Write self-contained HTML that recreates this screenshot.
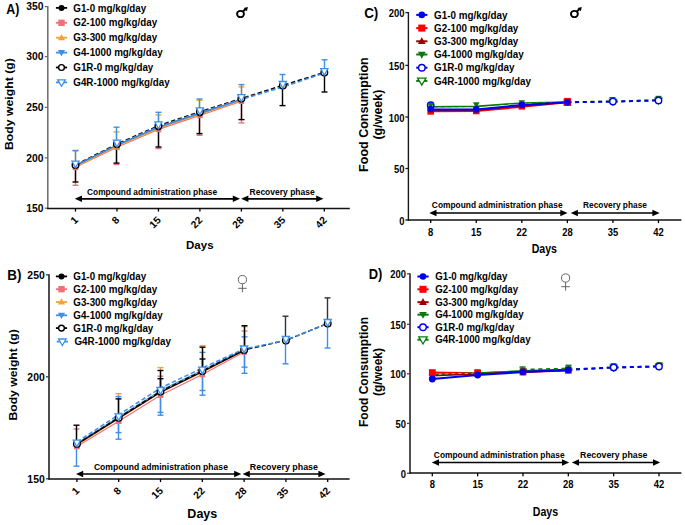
<!DOCTYPE html>
<html><head><meta charset="utf-8"><title>Body weight and food consumption</title>
<style>html,body{margin:0;padding:0;background:#fff;width:685px;height:525px;overflow:hidden}
svg{display:block}text{font-family:"Liberation Sans", sans-serif}</style></head>
<body>
<svg width="685" height="525" viewBox="0 0 685 525">
<rect width="685" height="525" fill="#fff"/>
<g font-family='"Liberation Sans", sans-serif'>
<line x1="47.80" y1="6.10" x2="47.80" y2="209.10" stroke="#6a6a6a" stroke-width="1.5" stroke-linecap="butt"/>
<line x1="44.80" y1="6.60" x2="47.80" y2="6.60" stroke="#6a6a6a" stroke-width="1.3" stroke-linecap="butt"/>
<text transform="translate(43.50,10.30)" font-size="10.3" text-anchor="end" fill="#000" font-weight="bold">350</text>
<line x1="44.80" y1="56.60" x2="47.80" y2="56.60" stroke="#6a6a6a" stroke-width="1.3" stroke-linecap="butt"/>
<text transform="translate(43.50,60.30)" font-size="10.3" text-anchor="end" fill="#000" font-weight="bold">300</text>
<line x1="44.80" y1="107.40" x2="47.80" y2="107.40" stroke="#6a6a6a" stroke-width="1.3" stroke-linecap="butt"/>
<text transform="translate(43.50,111.10)" font-size="10.3" text-anchor="end" fill="#000" font-weight="bold">250</text>
<line x1="44.80" y1="157.80" x2="47.80" y2="157.80" stroke="#6a6a6a" stroke-width="1.3" stroke-linecap="butt"/>
<text transform="translate(43.50,161.50)" font-size="10.3" text-anchor="end" fill="#000" font-weight="bold">200</text>
<line x1="44.80" y1="208.20" x2="47.80" y2="208.20" stroke="#6a6a6a" stroke-width="1.3" stroke-linecap="butt"/>
<text transform="translate(43.50,211.90)" font-size="10.3" text-anchor="end" fill="#000" font-weight="bold">150</text>
<line x1="47.10" y1="208.40" x2="349.80" y2="208.40" stroke="#111" stroke-width="1.5" stroke-linecap="butt"/>
<line x1="75.50" y1="208.40" x2="75.50" y2="211.60" stroke="#000" stroke-width="1.3" stroke-linecap="butt"/>
<text transform="translate(78.70,220.80) rotate(-45)" font-size="10.3" text-anchor="end" fill="#000" font-weight="bold">1</text>
<line x1="116.97" y1="208.40" x2="116.97" y2="211.60" stroke="#000" stroke-width="1.3" stroke-linecap="butt"/>
<text transform="translate(120.17,220.80) rotate(-45)" font-size="10.3" text-anchor="end" fill="#000" font-weight="bold">8</text>
<line x1="158.44" y1="208.40" x2="158.44" y2="211.60" stroke="#000" stroke-width="1.3" stroke-linecap="butt"/>
<text transform="translate(161.64,220.80) rotate(-45)" font-size="10.3" text-anchor="end" fill="#000" font-weight="bold">15</text>
<line x1="199.91" y1="208.40" x2="199.91" y2="211.60" stroke="#000" stroke-width="1.3" stroke-linecap="butt"/>
<text transform="translate(203.11,220.80) rotate(-45)" font-size="10.3" text-anchor="end" fill="#000" font-weight="bold">22</text>
<line x1="241.38" y1="208.40" x2="241.38" y2="211.60" stroke="#000" stroke-width="1.3" stroke-linecap="butt"/>
<text transform="translate(244.58,220.80) rotate(-45)" font-size="10.3" text-anchor="end" fill="#000" font-weight="bold">28</text>
<line x1="282.85" y1="208.40" x2="282.85" y2="211.60" stroke="#000" stroke-width="1.3" stroke-linecap="butt"/>
<text transform="translate(286.05,220.80) rotate(-45)" font-size="10.3" text-anchor="end" fill="#000" font-weight="bold">35</text>
<line x1="324.32" y1="208.40" x2="324.32" y2="211.60" stroke="#000" stroke-width="1.3" stroke-linecap="butt"/>
<text transform="translate(327.52,220.80) rotate(-45)" font-size="10.3" text-anchor="end" fill="#000" font-weight="bold">42</text>
<text transform="translate(6.30,13.70) scale(1.0,1.15)" font-size="12.4" text-anchor="start" fill="#000" font-weight="bold">A)</text>
<text transform="translate(13.30,104.10) rotate(-90) scale(1.058,1.0)" font-size="11.6" text-anchor="middle" fill="#000" font-weight="bold">Body weight (g)</text>
<text transform="translate(199.80,248.70)" font-size="11.5" text-anchor="middle" fill="#000" font-weight="bold">Days</text>
<line x1="78.80" y1="198.80" x2="236.00" y2="198.80" stroke="#000" stroke-width="1.7" stroke-linecap="butt"/>
<path d="M74.80,198.80 L82.00,195.50 L82.00,202.10 Z" fill="#000"/>
<path d="M240.00,198.80 L232.80,195.50 L232.80,202.10 Z" fill="#000"/>
<line x1="245.20" y1="198.80" x2="319.40" y2="198.80" stroke="#000" stroke-width="1.7" stroke-linecap="butt"/>
<path d="M241.20,198.80 L248.40,195.50 L248.40,202.10 Z" fill="#000"/>
<path d="M323.40,198.80 L316.20,195.50 L316.20,202.10 Z" fill="#000"/>
<text transform="translate(152.10,194.50) scale(1.0,1.07)" font-size="8.35" text-anchor="middle" fill="#000" font-weight="bold">Compound administration phase</text>
<text transform="translate(282.10,195.00) scale(1.0,1.07)" font-size="8.5" text-anchor="middle" fill="#000" font-weight="bold">Recovery phase</text>
<line x1="55.90" y1="7.90" x2="67.10" y2="7.90" stroke="#000" stroke-width="1.8" stroke-linecap="butt"/>
<circle cx="61.50" cy="7.90" r="3.0" fill="#000"/>
<text transform="translate(73.30,11.50) scale(1.0,1.1)" font-size="9.8" text-anchor="start" fill="#000" font-weight="bold">G1-0 mg/kg/day</text>
<line x1="55.90" y1="22.80" x2="67.10" y2="22.80" stroke="#f07078" stroke-width="1.8" stroke-linecap="butt"/>
<rect x="58.30" y="19.60" width="6.40" height="6.40" fill="#f07078"/>
<text transform="translate(73.30,26.40) scale(1.0,1.1)" font-size="9.8" text-anchor="start" fill="#000" font-weight="bold">G2-100 mg/kg/day</text>
<line x1="55.90" y1="37.70" x2="67.10" y2="37.70" stroke="#f4a338" stroke-width="1.8" stroke-linecap="butt"/>
<path d="M61.50,33.92 L65.00,40.22 L58.00,40.22 Z" fill="#f4a338"/>
<text transform="translate(73.30,41.30) scale(1.0,1.1)" font-size="9.8" text-anchor="start" fill="#000" font-weight="bold">G3-300 mg/kg/day</text>
<line x1="55.90" y1="52.60" x2="67.10" y2="52.60" stroke="#3f8fe8" stroke-width="1.8" stroke-linecap="butt"/>
<path d="M61.50,56.38 L65.00,50.08 L58.00,50.08 Z" fill="#3f8fe8"/>
<text transform="translate(73.30,56.20) scale(1.0,1.1)" font-size="9.8" text-anchor="start" fill="#000" font-weight="bold">G4-1000 mg/kg/day</text>
<line x1="55.90" y1="67.50" x2="67.10" y2="67.50" stroke="#000" stroke-width="1.8" stroke-linecap="butt"/>
<circle cx="61.50" cy="67.50" r="2.90" fill="#fff" stroke="#000" stroke-width="1.4"/>
<text transform="translate(73.30,71.10) scale(1.0,1.1)" font-size="9.8" text-anchor="start" fill="#000" font-weight="bold">G1R-0 mg/kg/day</text>
<line x1="55.90" y1="82.40" x2="67.10" y2="82.40" stroke="#3f8fe8" stroke-width="1.8" stroke-linecap="butt"/>
<path d="M61.50,86.28 L65.30,79.82 L57.70,79.82 Z" fill="#fff" stroke="#3f8fe8" stroke-width="1.3" stroke-linejoin="miter"/>
<text transform="translate(73.30,86.00) scale(1.0,1.1)" font-size="9.8" text-anchor="start" fill="#000" font-weight="bold">G4R-1000 mg/kg/day</text>
<line x1="75.50" y1="165.30" x2="75.50" y2="185.30" stroke="#f07078" stroke-width="1.4" stroke-linecap="butt"/>
<line x1="72.50" y1="185.30" x2="78.50" y2="185.30" stroke="#f07078" stroke-width="1.4" stroke-linecap="butt"/>
<line x1="75.50" y1="165.30" x2="75.50" y2="182.00" stroke="#000" stroke-width="1.4" stroke-linecap="butt"/>
<line x1="72.50" y1="182.00" x2="78.50" y2="182.00" stroke="#000" stroke-width="1.4" stroke-linecap="butt"/>
<line x1="75.50" y1="165.30" x2="75.50" y2="150.80" stroke="#f4a338" stroke-width="1.4" stroke-linecap="butt"/>
<line x1="72.50" y1="150.80" x2="78.50" y2="150.80" stroke="#f4a338" stroke-width="1.4" stroke-linecap="butt"/>
<line x1="75.50" y1="165.30" x2="75.50" y2="150.50" stroke="#3f8fe8" stroke-width="1.4" stroke-linecap="butt"/>
<line x1="72.50" y1="150.50" x2="78.50" y2="150.50" stroke="#3f8fe8" stroke-width="1.4" stroke-linecap="butt"/>
<line x1="116.50" y1="144.70" x2="116.50" y2="164.50" stroke="#f07078" stroke-width="1.4" stroke-linecap="butt"/>
<line x1="113.50" y1="164.50" x2="119.50" y2="164.50" stroke="#f07078" stroke-width="1.4" stroke-linecap="butt"/>
<line x1="116.50" y1="144.70" x2="116.50" y2="163.10" stroke="#000" stroke-width="1.4" stroke-linecap="butt"/>
<line x1="113.50" y1="163.10" x2="119.50" y2="163.10" stroke="#000" stroke-width="1.4" stroke-linecap="butt"/>
<line x1="116.50" y1="144.70" x2="116.50" y2="131.90" stroke="#f4a338" stroke-width="1.4" stroke-linecap="butt"/>
<line x1="113.50" y1="131.90" x2="119.50" y2="131.90" stroke="#f4a338" stroke-width="1.4" stroke-linecap="butt"/>
<line x1="116.50" y1="144.70" x2="116.50" y2="127.20" stroke="#3f8fe8" stroke-width="1.4" stroke-linecap="butt"/>
<line x1="113.50" y1="127.20" x2="119.50" y2="127.20" stroke="#3f8fe8" stroke-width="1.4" stroke-linecap="butt"/>
<line x1="158.50" y1="126.60" x2="158.50" y2="148.50" stroke="#f07078" stroke-width="1.4" stroke-linecap="butt"/>
<line x1="155.50" y1="148.50" x2="161.50" y2="148.50" stroke="#f07078" stroke-width="1.4" stroke-linecap="butt"/>
<line x1="158.50" y1="126.60" x2="158.50" y2="147.00" stroke="#000" stroke-width="1.4" stroke-linecap="butt"/>
<line x1="155.50" y1="147.00" x2="161.50" y2="147.00" stroke="#000" stroke-width="1.4" stroke-linecap="butt"/>
<line x1="158.50" y1="126.60" x2="158.50" y2="114.90" stroke="#f4a338" stroke-width="1.4" stroke-linecap="butt"/>
<line x1="155.50" y1="114.90" x2="161.50" y2="114.90" stroke="#f4a338" stroke-width="1.4" stroke-linecap="butt"/>
<line x1="158.50" y1="126.60" x2="158.50" y2="112.30" stroke="#3f8fe8" stroke-width="1.4" stroke-linecap="butt"/>
<line x1="155.50" y1="112.30" x2="161.50" y2="112.30" stroke="#3f8fe8" stroke-width="1.4" stroke-linecap="butt"/>
<line x1="199.50" y1="112.60" x2="199.50" y2="135.30" stroke="#f07078" stroke-width="1.4" stroke-linecap="butt"/>
<line x1="196.50" y1="135.30" x2="202.50" y2="135.30" stroke="#f07078" stroke-width="1.4" stroke-linecap="butt"/>
<line x1="199.50" y1="112.60" x2="199.50" y2="133.60" stroke="#000" stroke-width="1.4" stroke-linecap="butt"/>
<line x1="196.50" y1="133.60" x2="202.50" y2="133.60" stroke="#000" stroke-width="1.4" stroke-linecap="butt"/>
<line x1="199.50" y1="112.60" x2="199.50" y2="100.20" stroke="#f4a338" stroke-width="1.4" stroke-linecap="butt"/>
<line x1="196.50" y1="100.20" x2="202.50" y2="100.20" stroke="#f4a338" stroke-width="1.4" stroke-linecap="butt"/>
<line x1="199.50" y1="112.60" x2="199.50" y2="99.00" stroke="#3f8fe8" stroke-width="1.4" stroke-linecap="butt"/>
<line x1="196.50" y1="99.00" x2="202.50" y2="99.00" stroke="#3f8fe8" stroke-width="1.4" stroke-linecap="butt"/>
<line x1="241.50" y1="99.00" x2="241.50" y2="122.90" stroke="#f07078" stroke-width="1.4" stroke-linecap="butt"/>
<line x1="238.50" y1="122.90" x2="244.50" y2="122.90" stroke="#f07078" stroke-width="1.4" stroke-linecap="butt"/>
<line x1="241.50" y1="99.00" x2="241.50" y2="119.60" stroke="#000" stroke-width="1.4" stroke-linecap="butt"/>
<line x1="238.50" y1="119.60" x2="244.50" y2="119.60" stroke="#000" stroke-width="1.4" stroke-linecap="butt"/>
<line x1="241.50" y1="99.00" x2="241.50" y2="86.90" stroke="#f4a338" stroke-width="1.4" stroke-linecap="butt"/>
<line x1="238.50" y1="86.90" x2="244.50" y2="86.90" stroke="#f4a338" stroke-width="1.4" stroke-linecap="butt"/>
<line x1="241.50" y1="99.00" x2="241.50" y2="84.60" stroke="#3f8fe8" stroke-width="1.4" stroke-linecap="butt"/>
<line x1="238.50" y1="84.60" x2="244.50" y2="84.60" stroke="#3f8fe8" stroke-width="1.4" stroke-linecap="butt"/>
<line x1="282.50" y1="86.20" x2="282.50" y2="105.60" stroke="#000" stroke-width="1.4" stroke-linecap="butt"/>
<line x1="279.50" y1="105.60" x2="285.50" y2="105.60" stroke="#000" stroke-width="1.4" stroke-linecap="butt"/>
<line x1="282.50" y1="86.20" x2="282.50" y2="74.50" stroke="#3f8fe8" stroke-width="1.4" stroke-linecap="butt"/>
<line x1="279.50" y1="74.50" x2="285.50" y2="74.50" stroke="#3f8fe8" stroke-width="1.4" stroke-linecap="butt"/>
<line x1="324.50" y1="72.70" x2="324.50" y2="92.00" stroke="#000" stroke-width="1.4" stroke-linecap="butt"/>
<line x1="321.50" y1="92.00" x2="327.50" y2="92.00" stroke="#000" stroke-width="1.4" stroke-linecap="butt"/>
<line x1="324.50" y1="72.70" x2="324.50" y2="59.80" stroke="#3f8fe8" stroke-width="1.4" stroke-linecap="butt"/>
<line x1="321.50" y1="59.80" x2="327.50" y2="59.80" stroke="#3f8fe8" stroke-width="1.4" stroke-linecap="butt"/>
<polyline points="75.50,165.60 116.97,145.20 158.44,127.40 199.91,113.40 241.38,99.50" fill="none" stroke="#000" stroke-width="1.2" stroke-linejoin="round"/>
<polyline points="75.50,167.30 116.97,147.20 158.44,129.40 199.91,115.40 241.38,101.20" fill="none" stroke="#f07078" stroke-width="1.2" stroke-linejoin="round"/>
<polyline points="75.50,166.60 116.97,146.30 158.44,128.40 199.91,114.40 241.38,100.40" fill="none" stroke="#f4a338" stroke-width="1.2" stroke-linejoin="round"/>
<polyline points="75.50,165.70 116.97,145.30 158.44,127.40 199.91,113.40 241.38,99.60" fill="none" stroke="#3f8fe8" stroke-width="1.2" stroke-linejoin="round"/>
<polyline points="75.50,165.00 116.97,144.10 158.44,125.80 199.91,111.80 241.38,98.60 282.85,85.40 324.32,72.50" fill="none" stroke="#000" stroke-width="1.6" stroke-linejoin="round" stroke-dasharray="4.5,2.5"/>
<polyline points="75.50,165.50 116.97,144.80 158.44,126.70 199.91,112.70 241.38,99.30 282.85,86.90 324.32,73.10" fill="none" stroke="#3f8fe8" stroke-width="1.6" stroke-linejoin="round" stroke-dasharray="4.5,2.5"/>
<rect x="72.70" y="164.50" width="5.60" height="5.60" fill="#f07078"/>
<path d="M75.50,163.36 L78.50,168.76 L72.50,168.76 Z" fill="#f4a338"/>
<circle cx="75.50" cy="165.60" r="3.0" fill="#000"/>
<path d="M75.50,168.94 L78.50,163.54 L72.50,163.54 Z" fill="#3f8fe8"/>
<circle cx="75.50" cy="165.00" r="3.30" fill="#fff" stroke="#000" stroke-width="1.4"/>
<path d="M71.90,161.10 L79.10,161.10 L75.50,167.90 Z" fill="#fff" stroke="#3f8fe8" stroke-width="1.3" stroke-linejoin="miter"/>
<rect x="114.17" y="144.40" width="5.60" height="5.60" fill="#f07078"/>
<path d="M116.97,143.06 L119.97,148.46 L113.97,148.46 Z" fill="#f4a338"/>
<circle cx="116.97" cy="145.20" r="3.0" fill="#000"/>
<path d="M116.97,148.54 L119.97,143.14 L113.97,143.14 Z" fill="#3f8fe8"/>
<circle cx="116.97" cy="144.10" r="3.30" fill="#fff" stroke="#000" stroke-width="1.4"/>
<path d="M113.37,140.20 L120.57,140.20 L116.97,147.00 Z" fill="#fff" stroke="#3f8fe8" stroke-width="1.3" stroke-linejoin="miter"/>
<rect x="155.64" y="126.60" width="5.60" height="5.60" fill="#f07078"/>
<path d="M158.44,125.16 L161.44,130.56 L155.44,130.56 Z" fill="#f4a338"/>
<circle cx="158.44" cy="127.40" r="3.0" fill="#000"/>
<path d="M158.44,130.64 L161.44,125.24 L155.44,125.24 Z" fill="#3f8fe8"/>
<circle cx="158.44" cy="125.80" r="3.30" fill="#fff" stroke="#000" stroke-width="1.4"/>
<path d="M154.84,121.90 L162.04,121.90 L158.44,128.70 Z" fill="#fff" stroke="#3f8fe8" stroke-width="1.3" stroke-linejoin="miter"/>
<rect x="197.11" y="112.60" width="5.60" height="5.60" fill="#f07078"/>
<path d="M199.91,111.16 L202.91,116.56 L196.91,116.56 Z" fill="#f4a338"/>
<circle cx="199.91" cy="113.40" r="3.0" fill="#000"/>
<path d="M199.91,116.64 L202.91,111.24 L196.91,111.24 Z" fill="#3f8fe8"/>
<circle cx="199.91" cy="111.80" r="3.30" fill="#fff" stroke="#000" stroke-width="1.4"/>
<path d="M196.31,107.90 L203.51,107.90 L199.91,114.70 Z" fill="#fff" stroke="#3f8fe8" stroke-width="1.3" stroke-linejoin="miter"/>
<rect x="238.58" y="98.40" width="5.60" height="5.60" fill="#f07078"/>
<path d="M241.38,97.16 L244.38,102.56 L238.38,102.56 Z" fill="#f4a338"/>
<circle cx="241.38" cy="99.50" r="3.0" fill="#000"/>
<path d="M241.38,102.84 L244.38,97.44 L238.38,97.44 Z" fill="#3f8fe8"/>
<circle cx="241.38" cy="98.60" r="3.30" fill="#fff" stroke="#000" stroke-width="1.4"/>
<path d="M237.78,94.70 L244.98,94.70 L241.38,101.50 Z" fill="#fff" stroke="#3f8fe8" stroke-width="1.3" stroke-linejoin="miter"/>
<circle cx="282.85" cy="85.40" r="3.30" fill="#fff" stroke="#000" stroke-width="1.4"/>
<path d="M279.25,81.50 L286.45,81.50 L282.85,88.30 Z" fill="#fff" stroke="#3f8fe8" stroke-width="1.3" stroke-linejoin="miter"/>
<circle cx="324.32" cy="72.50" r="3.30" fill="#fff" stroke="#000" stroke-width="1.4"/>
<path d="M320.72,68.60 L327.92,68.60 L324.32,75.40 Z" fill="#fff" stroke="#3f8fe8" stroke-width="1.3" stroke-linejoin="miter"/>
<line x1="49.00" y1="274.30" x2="49.00" y2="479.60" stroke="#3a3a3a" stroke-width="1.8" stroke-linecap="butt"/>
<line x1="46.00" y1="274.80" x2="49.00" y2="274.80" stroke="#3a3a3a" stroke-width="1.3" stroke-linecap="butt"/>
<text transform="translate(44.70,278.50)" font-size="10.4" text-anchor="end" fill="#000" font-weight="bold">250</text>
<line x1="46.00" y1="376.80" x2="49.00" y2="376.80" stroke="#3a3a3a" stroke-width="1.3" stroke-linecap="butt"/>
<text transform="translate(44.70,380.50)" font-size="10.4" text-anchor="end" fill="#000" font-weight="bold">200</text>
<line x1="46.00" y1="478.80" x2="49.00" y2="478.80" stroke="#3a3a3a" stroke-width="1.3" stroke-linecap="butt"/>
<text transform="translate(44.70,482.50)" font-size="10.4" text-anchor="end" fill="#000" font-weight="bold">150</text>
<line x1="48.30" y1="478.90" x2="349.60" y2="478.90" stroke="#111" stroke-width="1.5" stroke-linecap="butt"/>
<line x1="76.90" y1="478.90" x2="76.90" y2="482.10" stroke="#000" stroke-width="1.3" stroke-linecap="butt"/>
<text transform="translate(80.10,491.50) rotate(-45)" font-size="10.3" text-anchor="end" fill="#000" font-weight="bold">1</text>
<line x1="118.70" y1="478.90" x2="118.70" y2="482.10" stroke="#000" stroke-width="1.3" stroke-linecap="butt"/>
<text transform="translate(121.90,491.50) rotate(-45)" font-size="10.3" text-anchor="end" fill="#000" font-weight="bold">8</text>
<line x1="160.50" y1="478.90" x2="160.50" y2="482.10" stroke="#000" stroke-width="1.3" stroke-linecap="butt"/>
<text transform="translate(163.70,491.50) rotate(-45)" font-size="10.3" text-anchor="end" fill="#000" font-weight="bold">15</text>
<line x1="202.30" y1="478.90" x2="202.30" y2="482.10" stroke="#000" stroke-width="1.3" stroke-linecap="butt"/>
<text transform="translate(205.50,491.50) rotate(-45)" font-size="10.3" text-anchor="end" fill="#000" font-weight="bold">22</text>
<line x1="244.10" y1="478.90" x2="244.10" y2="482.10" stroke="#000" stroke-width="1.3" stroke-linecap="butt"/>
<text transform="translate(247.30,491.50) rotate(-45)" font-size="10.3" text-anchor="end" fill="#000" font-weight="bold">28</text>
<line x1="285.90" y1="478.90" x2="285.90" y2="482.10" stroke="#000" stroke-width="1.3" stroke-linecap="butt"/>
<text transform="translate(289.10,491.50) rotate(-45)" font-size="10.3" text-anchor="end" fill="#000" font-weight="bold">35</text>
<line x1="327.70" y1="478.90" x2="327.70" y2="482.10" stroke="#000" stroke-width="1.3" stroke-linecap="butt"/>
<text transform="translate(330.90,491.50) rotate(-45)" font-size="10.3" text-anchor="end" fill="#000" font-weight="bold">42</text>
<text transform="translate(7.30,280.00) scale(1.0,1.13)" font-size="13.4" text-anchor="start" fill="#000" font-weight="bold">B)</text>
<text transform="translate(16.90,374.90) rotate(-90) scale(1.052,1.0)" font-size="11.6" text-anchor="middle" fill="#000" font-weight="bold">Body weight (g)</text>
<text transform="translate(202.30,517.90)" font-size="12.5" text-anchor="middle" fill="#000" font-weight="bold">Days</text>
<line x1="80.00" y1="474.00" x2="237.30" y2="474.00" stroke="#000" stroke-width="1.7" stroke-linecap="butt"/>
<path d="M76.00,474.00 L83.20,470.70 L83.20,477.30 Z" fill="#000"/>
<path d="M241.30,474.00 L234.10,470.70 L234.10,477.30 Z" fill="#000"/>
<line x1="246.60" y1="474.00" x2="321.60" y2="474.00" stroke="#000" stroke-width="1.7" stroke-linecap="butt"/>
<path d="M242.60,474.00 L249.80,470.70 L249.80,477.30 Z" fill="#000"/>
<path d="M325.60,474.00 L318.40,470.70 L318.40,477.30 Z" fill="#000"/>
<text transform="translate(160.90,469.80) scale(1.0,1.07)" font-size="8.6" text-anchor="middle" fill="#000" font-weight="bold">Compound administration phase</text>
<text transform="translate(283.90,470.00) scale(1.0,1.07)" font-size="8.9" text-anchor="middle" fill="#000" font-weight="bold">Recovery phase</text>
<line x1="55.90" y1="276.40" x2="67.10" y2="276.40" stroke="#000" stroke-width="1.8" stroke-linecap="butt"/>
<circle cx="61.50" cy="276.40" r="3.0" fill="#000"/>
<text transform="translate(73.30,280.00) scale(1.0,1.1)" font-size="9.8" text-anchor="start" fill="#000" font-weight="bold">G1-0 mg/kg/day</text>
<line x1="55.90" y1="289.20" x2="67.10" y2="289.20" stroke="#f07078" stroke-width="1.8" stroke-linecap="butt"/>
<rect x="58.30" y="286.00" width="6.40" height="6.40" fill="#f07078"/>
<text transform="translate(73.30,292.80) scale(1.0,1.1)" font-size="9.8" text-anchor="start" fill="#000" font-weight="bold">G2-100 mg/kg/day</text>
<line x1="55.90" y1="302.10" x2="67.10" y2="302.10" stroke="#f4a338" stroke-width="1.8" stroke-linecap="butt"/>
<path d="M61.50,298.32 L65.00,304.62 L58.00,304.62 Z" fill="#f4a338"/>
<text transform="translate(73.30,305.70) scale(1.0,1.1)" font-size="9.8" text-anchor="start" fill="#000" font-weight="bold">G3-300 mg/kg/day</text>
<line x1="55.90" y1="315.30" x2="67.10" y2="315.30" stroke="#3f8fe8" stroke-width="1.8" stroke-linecap="butt"/>
<path d="M61.50,319.08 L65.00,312.78 L58.00,312.78 Z" fill="#3f8fe8"/>
<text transform="translate(73.30,318.90) scale(1.0,1.1)" font-size="9.8" text-anchor="start" fill="#000" font-weight="bold">G4-1000 mg/kg/day</text>
<line x1="55.90" y1="328.10" x2="67.10" y2="328.10" stroke="#000" stroke-width="1.8" stroke-linecap="butt"/>
<circle cx="61.50" cy="328.10" r="2.90" fill="#fff" stroke="#000" stroke-width="1.4"/>
<text transform="translate(73.30,331.70) scale(1.0,1.1)" font-size="9.8" text-anchor="start" fill="#000" font-weight="bold">G1R-0 mg/kg/day</text>
<line x1="56.74" y1="341.60" x2="67.94" y2="341.60" stroke="#3f8fe8" stroke-width="1.8" stroke-linecap="butt"/>
<path d="M62.34,345.48 L66.14,339.02 L58.54,339.02 Z" fill="#fff" stroke="#3f8fe8" stroke-width="1.3" stroke-linejoin="miter"/>
<text transform="translate(74.50,345.20) scale(1.0,1.1)" font-size="9.8" text-anchor="start" fill="#000" font-weight="bold">G4R-1000 mg/kg/day</text>
<line x1="76.50" y1="444.00" x2="76.50" y2="466.20" stroke="#3f8fe8" stroke-width="1.4" stroke-linecap="butt"/>
<line x1="73.50" y1="466.20" x2="79.50" y2="466.20" stroke="#3f8fe8" stroke-width="1.4" stroke-linecap="butt"/>
<line x1="76.50" y1="444.00" x2="76.50" y2="429.00" stroke="#f07078" stroke-width="1.4" stroke-linecap="butt"/>
<line x1="73.50" y1="429.00" x2="79.50" y2="429.00" stroke="#f07078" stroke-width="1.4" stroke-linecap="butt"/>
<line x1="76.50" y1="444.00" x2="76.50" y2="425.20" stroke="#000" stroke-width="1.4" stroke-linecap="butt"/>
<line x1="73.50" y1="425.20" x2="79.50" y2="425.20" stroke="#000" stroke-width="1.4" stroke-linecap="butt"/>
<line x1="118.50" y1="417.70" x2="118.50" y2="439.20" stroke="#3f8fe8" stroke-width="1.4" stroke-linecap="butt"/>
<line x1="115.50" y1="439.20" x2="121.50" y2="439.20" stroke="#3f8fe8" stroke-width="1.4" stroke-linecap="butt"/>
<line x1="118.50" y1="417.70" x2="118.50" y2="432.60" stroke="#3f8fe8" stroke-width="1.4" stroke-linecap="butt"/>
<line x1="115.50" y1="432.60" x2="121.50" y2="432.60" stroke="#3f8fe8" stroke-width="1.4" stroke-linecap="butt"/>
<line x1="118.50" y1="417.70" x2="118.50" y2="393.70" stroke="#f4a338" stroke-width="1.4" stroke-linecap="butt"/>
<line x1="115.50" y1="393.70" x2="121.50" y2="393.70" stroke="#f4a338" stroke-width="1.4" stroke-linecap="butt"/>
<line x1="118.50" y1="417.70" x2="118.50" y2="396.60" stroke="#3f8fe8" stroke-width="1.4" stroke-linecap="butt"/>
<line x1="115.50" y1="396.60" x2="121.50" y2="396.60" stroke="#3f8fe8" stroke-width="1.4" stroke-linecap="butt"/>
<line x1="118.50" y1="417.70" x2="118.50" y2="398.90" stroke="#000" stroke-width="1.4" stroke-linecap="butt"/>
<line x1="115.50" y1="398.90" x2="121.50" y2="398.90" stroke="#000" stroke-width="1.4" stroke-linecap="butt"/>
<line x1="160.50" y1="391.40" x2="160.50" y2="415.20" stroke="#3f8fe8" stroke-width="1.4" stroke-linecap="butt"/>
<line x1="157.50" y1="415.20" x2="163.50" y2="415.20" stroke="#3f8fe8" stroke-width="1.4" stroke-linecap="butt"/>
<line x1="160.50" y1="391.40" x2="160.50" y2="412.40" stroke="#3f8fe8" stroke-width="1.4" stroke-linecap="butt"/>
<line x1="157.50" y1="412.40" x2="163.50" y2="412.40" stroke="#3f8fe8" stroke-width="1.4" stroke-linecap="butt"/>
<line x1="160.50" y1="391.40" x2="160.50" y2="367.60" stroke="#f4a338" stroke-width="1.4" stroke-linecap="butt"/>
<line x1="157.50" y1="367.60" x2="163.50" y2="367.60" stroke="#f4a338" stroke-width="1.4" stroke-linecap="butt"/>
<line x1="160.50" y1="391.40" x2="160.50" y2="376.20" stroke="#f07078" stroke-width="1.4" stroke-linecap="butt"/>
<line x1="157.50" y1="376.20" x2="163.50" y2="376.20" stroke="#f07078" stroke-width="1.4" stroke-linecap="butt"/>
<line x1="160.50" y1="391.40" x2="160.50" y2="370.50" stroke="#000" stroke-width="1.4" stroke-linecap="butt"/>
<line x1="157.50" y1="370.50" x2="163.50" y2="370.50" stroke="#000" stroke-width="1.4" stroke-linecap="butt"/>
<line x1="160.50" y1="391.40" x2="160.50" y2="378.70" stroke="#000" stroke-width="1.4" stroke-linecap="butt"/>
<line x1="157.50" y1="378.70" x2="163.50" y2="378.70" stroke="#000" stroke-width="1.4" stroke-linecap="butt"/>
<line x1="202.50" y1="371.00" x2="202.50" y2="395.20" stroke="#3f8fe8" stroke-width="1.4" stroke-linecap="butt"/>
<line x1="199.50" y1="395.20" x2="205.50" y2="395.20" stroke="#3f8fe8" stroke-width="1.4" stroke-linecap="butt"/>
<line x1="202.50" y1="371.00" x2="202.50" y2="390.50" stroke="#3f8fe8" stroke-width="1.4" stroke-linecap="butt"/>
<line x1="199.50" y1="390.50" x2="205.50" y2="390.50" stroke="#3f8fe8" stroke-width="1.4" stroke-linecap="butt"/>
<line x1="202.50" y1="371.00" x2="202.50" y2="345.70" stroke="#f4a338" stroke-width="1.4" stroke-linecap="butt"/>
<line x1="199.50" y1="345.70" x2="205.50" y2="345.70" stroke="#f4a338" stroke-width="1.4" stroke-linecap="butt"/>
<line x1="202.50" y1="371.00" x2="202.50" y2="352.40" stroke="#3f8fe8" stroke-width="1.4" stroke-linecap="butt"/>
<line x1="199.50" y1="352.40" x2="205.50" y2="352.40" stroke="#3f8fe8" stroke-width="1.4" stroke-linecap="butt"/>
<line x1="202.50" y1="371.00" x2="202.50" y2="347.20" stroke="#000" stroke-width="1.4" stroke-linecap="butt"/>
<line x1="199.50" y1="347.20" x2="205.50" y2="347.20" stroke="#000" stroke-width="1.4" stroke-linecap="butt"/>
<line x1="202.50" y1="371.00" x2="202.50" y2="359.00" stroke="#000" stroke-width="1.4" stroke-linecap="butt"/>
<line x1="199.50" y1="359.00" x2="205.50" y2="359.00" stroke="#000" stroke-width="1.4" stroke-linecap="butt"/>
<line x1="244.50" y1="349.90" x2="244.50" y2="373.30" stroke="#3f8fe8" stroke-width="1.4" stroke-linecap="butt"/>
<line x1="241.50" y1="373.30" x2="247.50" y2="373.30" stroke="#3f8fe8" stroke-width="1.4" stroke-linecap="butt"/>
<line x1="244.50" y1="349.90" x2="244.50" y2="367.20" stroke="#3f8fe8" stroke-width="1.4" stroke-linecap="butt"/>
<line x1="241.50" y1="367.20" x2="247.50" y2="367.20" stroke="#3f8fe8" stroke-width="1.4" stroke-linecap="butt"/>
<line x1="244.50" y1="349.90" x2="244.50" y2="326.70" stroke="#f4a338" stroke-width="1.4" stroke-linecap="butt"/>
<line x1="241.50" y1="326.70" x2="247.50" y2="326.70" stroke="#f4a338" stroke-width="1.4" stroke-linecap="butt"/>
<line x1="244.50" y1="349.90" x2="244.50" y2="331.00" stroke="#f07078" stroke-width="1.4" stroke-linecap="butt"/>
<line x1="241.50" y1="331.00" x2="247.50" y2="331.00" stroke="#f07078" stroke-width="1.4" stroke-linecap="butt"/>
<line x1="244.50" y1="349.90" x2="244.50" y2="336.80" stroke="#3f8fe8" stroke-width="1.4" stroke-linecap="butt"/>
<line x1="241.50" y1="336.80" x2="247.50" y2="336.80" stroke="#3f8fe8" stroke-width="1.4" stroke-linecap="butt"/>
<line x1="244.50" y1="349.90" x2="244.50" y2="325.70" stroke="#000" stroke-width="1.4" stroke-linecap="butt"/>
<line x1="241.50" y1="325.70" x2="247.50" y2="325.70" stroke="#000" stroke-width="1.4" stroke-linecap="butt"/>
<line x1="285.50" y1="340.40" x2="285.50" y2="363.80" stroke="#3f8fe8" stroke-width="1.4" stroke-linecap="butt"/>
<line x1="282.50" y1="363.80" x2="288.50" y2="363.80" stroke="#3f8fe8" stroke-width="1.4" stroke-linecap="butt"/>
<line x1="285.50" y1="340.40" x2="285.50" y2="316.20" stroke="#333" stroke-width="1.4" stroke-linecap="butt"/>
<line x1="282.50" y1="316.20" x2="288.50" y2="316.20" stroke="#333" stroke-width="1.4" stroke-linecap="butt"/>
<line x1="327.50" y1="323.40" x2="327.50" y2="348.00" stroke="#3f8fe8" stroke-width="1.4" stroke-linecap="butt"/>
<line x1="324.50" y1="348.00" x2="330.50" y2="348.00" stroke="#3f8fe8" stroke-width="1.4" stroke-linecap="butt"/>
<line x1="327.50" y1="323.40" x2="327.50" y2="297.90" stroke="#333" stroke-width="1.4" stroke-linecap="butt"/>
<line x1="324.50" y1="297.90" x2="330.50" y2="297.90" stroke="#333" stroke-width="1.4" stroke-linecap="butt"/>
<polyline points="76.90,446.50 118.70,421.20 160.50,395.20 202.30,374.50 244.10,352.10" fill="none" stroke="#f07078" stroke-width="1.1" stroke-linejoin="round"/>
<polyline points="76.90,445.20 118.70,418.90 160.50,392.60 202.30,372.20 244.10,350.70" fill="none" stroke="#f4a338" stroke-width="1.1" stroke-linejoin="round"/>
<polyline points="76.90,443.50 118.70,416.90 160.50,390.60 202.30,370.20 244.10,349.40" fill="none" stroke="#3f8fe8" stroke-width="1.1" stroke-linejoin="round"/>
<polyline points="76.90,444.30 118.70,418.20 160.50,392.20 202.30,371.80 244.10,350.40" fill="none" stroke="#000" stroke-width="1.1" stroke-linejoin="round"/>
<polyline points="76.90,444.00 118.70,417.70 160.50,391.40 202.30,371.00 244.10,349.90 285.90,340.40 327.70,323.40" fill="none" stroke="#000" stroke-width="1.5" stroke-linejoin="round" stroke-dasharray="4.5,2.5"/>
<polyline points="76.90,442.00 118.70,414.70 160.50,388.10 202.30,368.00 244.10,348.90 285.90,340.40 327.70,323.40" fill="none" stroke="#3f8fe8" stroke-width="1.5" stroke-linejoin="round" stroke-dasharray="4.5,2.5"/>
<rect x="74.10" y="443.70" width="5.60" height="5.60" fill="#f07078"/>
<path d="M76.90,441.96 L79.90,447.36 L73.90,447.36 Z" fill="#f4a338"/>
<circle cx="76.90" cy="444.30" r="3.0" fill="#000"/>
<path d="M76.90,446.74 L79.90,441.34 L73.90,441.34 Z" fill="#3f8fe8"/>
<circle cx="76.90" cy="444.00" r="3.30" fill="#fff" stroke="#000" stroke-width="1.4"/>
<path d="M73.30,440.10 L80.50,440.10 L76.90,446.90 Z" fill="#fff" stroke="#3f8fe8" stroke-width="1.3" stroke-linejoin="miter"/>
<rect x="115.90" y="418.40" width="5.60" height="5.60" fill="#f07078"/>
<path d="M118.70,415.66 L121.70,421.06 L115.70,421.06 Z" fill="#f4a338"/>
<circle cx="118.70" cy="418.20" r="3.0" fill="#000"/>
<path d="M118.70,420.14 L121.70,414.74 L115.70,414.74 Z" fill="#3f8fe8"/>
<circle cx="118.70" cy="417.70" r="3.30" fill="#fff" stroke="#000" stroke-width="1.4"/>
<path d="M115.10,413.80 L122.30,413.80 L118.70,420.60 Z" fill="#fff" stroke="#3f8fe8" stroke-width="1.3" stroke-linejoin="miter"/>
<rect x="157.70" y="392.40" width="5.60" height="5.60" fill="#f07078"/>
<path d="M160.50,389.36 L163.50,394.76 L157.50,394.76 Z" fill="#f4a338"/>
<circle cx="160.50" cy="392.20" r="3.0" fill="#000"/>
<path d="M160.50,393.84 L163.50,388.44 L157.50,388.44 Z" fill="#3f8fe8"/>
<circle cx="160.50" cy="391.40" r="3.30" fill="#fff" stroke="#000" stroke-width="1.4"/>
<path d="M156.90,387.50 L164.10,387.50 L160.50,394.30 Z" fill="#fff" stroke="#3f8fe8" stroke-width="1.3" stroke-linejoin="miter"/>
<rect x="199.50" y="371.70" width="5.60" height="5.60" fill="#f07078"/>
<path d="M202.30,368.96 L205.30,374.36 L199.30,374.36 Z" fill="#f4a338"/>
<circle cx="202.30" cy="371.80" r="3.0" fill="#000"/>
<path d="M202.30,373.44 L205.30,368.04 L199.30,368.04 Z" fill="#3f8fe8"/>
<circle cx="202.30" cy="371.00" r="3.30" fill="#fff" stroke="#000" stroke-width="1.4"/>
<path d="M198.70,367.10 L205.90,367.10 L202.30,373.90 Z" fill="#fff" stroke="#3f8fe8" stroke-width="1.3" stroke-linejoin="miter"/>
<rect x="241.30" y="349.30" width="5.60" height="5.60" fill="#f07078"/>
<path d="M244.10,347.46 L247.10,352.86 L241.10,352.86 Z" fill="#f4a338"/>
<circle cx="244.10" cy="350.40" r="3.0" fill="#000"/>
<path d="M244.10,352.64 L247.10,347.24 L241.10,347.24 Z" fill="#3f8fe8"/>
<circle cx="244.10" cy="349.90" r="3.30" fill="#fff" stroke="#000" stroke-width="1.4"/>
<path d="M240.50,346.00 L247.70,346.00 L244.10,352.80 Z" fill="#fff" stroke="#3f8fe8" stroke-width="1.3" stroke-linejoin="miter"/>
<circle cx="285.90" cy="340.40" r="3.30" fill="#fff" stroke="#000" stroke-width="1.4"/>
<path d="M282.30,336.50 L289.50,336.50 L285.90,343.30 Z" fill="#fff" stroke="#3f8fe8" stroke-width="1.3" stroke-linejoin="miter"/>
<circle cx="327.70" cy="323.40" r="3.30" fill="#fff" stroke="#000" stroke-width="1.4"/>
<path d="M324.10,319.50 L331.30,319.50 L327.70,326.30 Z" fill="#fff" stroke="#3f8fe8" stroke-width="1.3" stroke-linejoin="miter"/>
<ellipse cx="240.50" cy="14.00" rx="3.45" ry="3.15" fill="none" stroke="#000" stroke-width="1.9"/>
<line x1="242.90" y1="11.40" x2="245.70" y2="9.00" stroke="#000" stroke-width="2.0" stroke-linecap="butt"/>
<path d="M247.90,7.00 L243.70,8.00 L246.90,11.20 Z" fill="#000"/>
<circle cx="242.40" cy="279.60" r="4.1" fill="none" stroke="#555" stroke-width="0.9"/>
<line x1="242.40" y1="283.90" x2="242.40" y2="292.20" stroke="#555" stroke-width="0.9" stroke-linecap="butt"/>
<line x1="238.10" y1="288.30" x2="246.70" y2="288.30" stroke="#555" stroke-width="0.9" stroke-linecap="butt"/>
<line x1="408.40" y1="12.10" x2="408.40" y2="220.60" stroke="#1a1a1a" stroke-width="1.4" stroke-linecap="butt"/>
<line x1="405.40" y1="12.60" x2="408.40" y2="12.60" stroke="#1a1a1a" stroke-width="1.3" stroke-linecap="butt"/>
<text transform="translate(404.40,17.20) scale(0.98,1.12)" font-size="9.6" text-anchor="end" fill="#000" font-weight="bold">200</text>
<line x1="405.40" y1="65.40" x2="408.40" y2="65.40" stroke="#1a1a1a" stroke-width="1.3" stroke-linecap="butt"/>
<text transform="translate(404.40,70.00) scale(0.98,1.12)" font-size="9.6" text-anchor="end" fill="#000" font-weight="bold">150</text>
<line x1="405.40" y1="117.00" x2="408.40" y2="117.00" stroke="#1a1a1a" stroke-width="1.3" stroke-linecap="butt"/>
<text transform="translate(404.40,121.60) scale(0.98,1.12)" font-size="9.6" text-anchor="end" fill="#000" font-weight="bold">100</text>
<line x1="405.40" y1="168.50" x2="408.40" y2="168.50" stroke="#1a1a1a" stroke-width="1.3" stroke-linecap="butt"/>
<text transform="translate(404.40,173.10) scale(0.98,1.12)" font-size="9.6" text-anchor="end" fill="#000" font-weight="bold">50</text>
<line x1="405.40" y1="220.00" x2="408.40" y2="220.00" stroke="#1a1a1a" stroke-width="1.3" stroke-linecap="butt"/>
<text transform="translate(404.40,224.60) scale(0.98,1.12)" font-size="9.6" text-anchor="end" fill="#000" font-weight="bold">0</text>
<line x1="407.70" y1="219.90" x2="681.40" y2="219.90" stroke="#111" stroke-width="1.5" stroke-linecap="butt"/>
<line x1="430.70" y1="219.90" x2="430.70" y2="223.10" stroke="#000" stroke-width="1.3" stroke-linecap="butt"/>
<text transform="translate(430.70,235.80) scale(0.98,1.12)" font-size="9.6" text-anchor="middle" fill="#000" font-weight="bold">8</text>
<line x1="476.26" y1="219.90" x2="476.26" y2="223.10" stroke="#000" stroke-width="1.3" stroke-linecap="butt"/>
<text transform="translate(476.26,235.80) scale(0.98,1.12)" font-size="9.6" text-anchor="middle" fill="#000" font-weight="bold">15</text>
<line x1="521.82" y1="219.90" x2="521.82" y2="223.10" stroke="#000" stroke-width="1.3" stroke-linecap="butt"/>
<text transform="translate(521.82,235.80) scale(0.98,1.12)" font-size="9.6" text-anchor="middle" fill="#000" font-weight="bold">22</text>
<line x1="567.38" y1="219.90" x2="567.38" y2="223.10" stroke="#000" stroke-width="1.3" stroke-linecap="butt"/>
<text transform="translate(567.38,235.80) scale(0.98,1.12)" font-size="9.6" text-anchor="middle" fill="#000" font-weight="bold">28</text>
<line x1="612.94" y1="219.90" x2="612.94" y2="223.10" stroke="#000" stroke-width="1.3" stroke-linecap="butt"/>
<text transform="translate(612.94,235.80) scale(0.98,1.12)" font-size="9.6" text-anchor="middle" fill="#000" font-weight="bold">35</text>
<line x1="658.50" y1="219.90" x2="658.50" y2="223.10" stroke="#000" stroke-width="1.3" stroke-linecap="butt"/>
<text transform="translate(658.50,235.80) scale(0.98,1.12)" font-size="9.6" text-anchor="middle" fill="#000" font-weight="bold">42</text>
<text transform="translate(364.20,18.20) scale(1.0,1.03)" font-size="13.4" text-anchor="start" fill="#000" font-weight="bold">C)</text>
<text transform="translate(368.00,114.60) rotate(-90)" font-size="12.5" text-anchor="middle" fill="#000" font-weight="bold">Food Consumption</text>
<text transform="translate(381.80,114.60) rotate(-90)" font-size="12.5" text-anchor="middle" fill="#000" font-weight="bold">(g/week)</text>
<text transform="translate(544.30,252.80) scale(1.0,1.12)" font-size="10.6" text-anchor="middle" fill="#000" font-weight="bold">Days</text>
<line x1="433.30" y1="213.00" x2="563.50" y2="213.00" stroke="#000" stroke-width="1.7" stroke-linecap="butt"/>
<path d="M429.30,213.00 L436.50,209.70 L436.50,216.30 Z" fill="#000"/>
<path d="M567.50,213.00 L560.30,209.70 L560.30,216.30 Z" fill="#000"/>
<line x1="574.70" y1="213.00" x2="655.60" y2="213.00" stroke="#000" stroke-width="1.7" stroke-linecap="butt"/>
<path d="M570.70,213.00 L577.90,209.70 L577.90,216.30 Z" fill="#000"/>
<path d="M659.60,213.00 L652.40,209.70 L652.40,216.30 Z" fill="#000"/>
<text transform="translate(497.20,208.40) scale(1.0,1.17)" font-size="8.38" text-anchor="middle" fill="#000" font-weight="bold">Compound administration phase</text>
<text transform="translate(615.00,208.20) scale(1.0,1.17)" font-size="8.33" text-anchor="middle" fill="#000" font-weight="bold">Recovery phase</text>
<line x1="416.20" y1="14.90" x2="427.40" y2="14.90" stroke="#0000ee" stroke-width="2.0" stroke-linecap="butt"/>
<circle cx="421.80" cy="14.90" r="3.3000000000000003" fill="#0000ee"/>
<text transform="translate(434.10,18.50) scale(1.0,1.1)" font-size="9.85" text-anchor="start" fill="#000" font-weight="bold">G1-0 mg/kg/day</text>
<line x1="416.20" y1="28.10" x2="427.40" y2="28.10" stroke="#ff0000" stroke-width="2.0" stroke-linecap="butt"/>
<rect x="418.28" y="24.58" width="7.04" height="7.04" fill="#ff0000"/>
<text transform="translate(434.10,31.70) scale(1.0,1.1)" font-size="9.85" text-anchor="start" fill="#000" font-weight="bold">G2-100 mg/kg/day</text>
<line x1="416.20" y1="41.30" x2="427.40" y2="41.30" stroke="#990000" stroke-width="2.0" stroke-linecap="butt"/>
<path d="M421.80,37.14 L425.65,44.07 L417.95,44.07 Z" fill="#990000"/>
<text transform="translate(434.10,44.90) scale(1.0,1.1)" font-size="9.85" text-anchor="start" fill="#000" font-weight="bold">G3-300 mg/kg/day</text>
<line x1="416.20" y1="54.50" x2="427.40" y2="54.50" stroke="#0a7a0a" stroke-width="2.0" stroke-linecap="butt"/>
<path d="M421.80,58.66 L425.65,51.73 L417.95,51.73 Z" fill="#0a7a0a"/>
<text transform="translate(434.10,58.10) scale(1.0,1.1)" font-size="9.85" text-anchor="start" fill="#000" font-weight="bold">G4-1000 mg/kg/day</text>
<line x1="416.20" y1="67.70" x2="427.40" y2="67.70" stroke="#0000ee" stroke-width="2.0" stroke-linecap="butt"/>
<circle cx="421.80" cy="67.70" r="3.26" fill="#fff" stroke="#0000ee" stroke-width="1.4"/>
<text transform="translate(434.10,71.30) scale(1.0,1.1)" font-size="9.85" text-anchor="start" fill="#000" font-weight="bold">G1R-0 mg/kg/day</text>
<line x1="416.20" y1="80.90" x2="427.40" y2="80.90" stroke="#0a7a0a" stroke-width="2.0" stroke-linecap="butt"/>
<path d="M421.80,85.16 L425.98,78.06 L417.62,78.06 Z" fill="#fff" stroke="#0a7a0a" stroke-width="1.3" stroke-linejoin="miter"/>
<text transform="translate(434.10,84.50) scale(1.0,1.1)" font-size="9.85" text-anchor="start" fill="#000" font-weight="bold">G4R-1000 mg/kg/day</text>
<line x1="612.50" y1="101.60" x2="612.50" y2="97.70" stroke="#0a7a0a" stroke-width="1.4" stroke-linecap="butt"/>
<line x1="609.50" y1="97.70" x2="615.50" y2="97.70" stroke="#0a7a0a" stroke-width="1.4" stroke-linecap="butt"/>
<line x1="658.50" y1="100.40" x2="658.50" y2="96.50" stroke="#0a7a0a" stroke-width="1.4" stroke-linecap="butt"/>
<line x1="655.50" y1="96.50" x2="661.50" y2="96.50" stroke="#0a7a0a" stroke-width="1.4" stroke-linecap="butt"/>
<line x1="567.50" y1="102.20" x2="567.50" y2="98.60" stroke="#ff0000" stroke-width="1.4" stroke-linecap="butt"/>
<line x1="564.50" y1="98.60" x2="570.50" y2="98.60" stroke="#ff0000" stroke-width="1.4" stroke-linecap="butt"/>
<polyline points="430.70,111.30 476.26,111.10 521.82,107.00 567.38,102.40" fill="none" stroke="#ff0000" stroke-width="1.7" stroke-linejoin="round"/>
<polyline points="430.70,110.40 476.26,110.30 521.82,106.00 567.38,102.30" fill="none" stroke="#990000" stroke-width="1.5" stroke-linejoin="round"/>
<polyline points="430.70,106.90 476.26,106.40 521.82,103.00 567.38,102.00" fill="none" stroke="#0a7a0a" stroke-width="1.6" stroke-linejoin="round"/>
<polyline points="430.70,108.20 476.26,108.00 521.82,104.00 567.38,102.20" fill="none" stroke="#e8ecff" stroke-width="0.9" stroke-linejoin="round" stroke-dasharray="3,4"/>
<polyline points="430.70,109.60 476.26,109.50 521.82,105.00 567.38,102.30" fill="none" stroke="#0000ee" stroke-width="2.0" stroke-linejoin="round"/>
<polyline points="567.38,102.20 612.94,101.40 658.50,100.20" fill="none" stroke="#0a7a0a" stroke-width="1.9" stroke-linejoin="round" stroke-dasharray="4,3.7"/>
<polyline points="567.38,102.30 612.94,101.60 658.50,100.40" fill="none" stroke="#0000ee" stroke-width="2.0" stroke-linejoin="round" stroke-dasharray="4,3.7"/>
<circle cx="430.70" cy="105.20" r="3.15" fill="#fff" stroke="#0000ee" stroke-width="1.5"/>
<rect x="427.40" y="108.10" width="6.60" height="6.60" fill="#ff0000"/>
<path d="M430.70,106.54 L433.90,112.30 L427.50,112.30 Z" fill="#990000"/>
<path d="M430.70,108.86 L433.90,103.10 L427.50,103.10 Z" fill="#0a7a0a"/>
<circle cx="430.70" cy="109.00" r="3.3" fill="#0000ee"/>
<rect x="472.96" y="107.70" width="6.60" height="6.60" fill="#ff0000"/>
<path d="M476.26,106.54 L479.46,112.30 L473.06,112.30 Z" fill="#990000"/>
<path d="M476.26,108.16 L479.56,102.22 L472.96,102.22 Z" fill="#0a7a0a"/>
<circle cx="476.26" cy="109.40" r="3.3" fill="#0000ee"/>
<rect x="518.52" y="103.00" width="6.60" height="6.60" fill="#ff0000"/>
<path d="M521.82,101.54 L525.02,107.30 L518.62,107.30 Z" fill="#990000"/>
<path d="M521.82,106.16 L525.12,100.22 L518.52,100.22 Z" fill="#0a7a0a"/>
<circle cx="521.82" cy="104.90" r="3.3" fill="#0000ee"/>
<path d="M567.38,105.36 L570.68,99.42 L564.08,99.42 Z" fill="#0a7a0a"/>
<rect x="563.58" y="98.40" width="7.60" height="7.60" fill="#ff0000"/>
<circle cx="567.38" cy="102.30" r="3.3" fill="#0000ee"/>
<path d="M612.94,105.07 L616.34,99.29 L609.54,99.29 Z" fill="#fff" stroke="#0a7a0a" stroke-width="1.3" stroke-linejoin="miter"/>
<circle cx="612.94" cy="101.60" r="3.20" fill="#fff" stroke="#0000ee" stroke-width="1.4"/>
<path d="M658.50,103.87 L661.90,98.09 L655.10,98.09 Z" fill="#fff" stroke="#0a7a0a" stroke-width="1.3" stroke-linejoin="miter"/>
<circle cx="658.50" cy="100.40" r="3.20" fill="#fff" stroke="#0000ee" stroke-width="1.4"/>
<line x1="410.00" y1="273.30" x2="410.00" y2="473.80" stroke="#484848" stroke-width="1.9" stroke-linecap="butt"/>
<line x1="407.00" y1="273.80" x2="410.00" y2="273.80" stroke="#484848" stroke-width="1.3" stroke-linecap="butt"/>
<text transform="translate(406.00,278.40) scale(0.98,1.12)" font-size="9.6" text-anchor="end" fill="#000" font-weight="bold">200</text>
<line x1="407.00" y1="324.30" x2="410.00" y2="324.30" stroke="#484848" stroke-width="1.3" stroke-linecap="butt"/>
<text transform="translate(406.00,328.90) scale(0.98,1.12)" font-size="9.6" text-anchor="end" fill="#000" font-weight="bold">150</text>
<line x1="407.00" y1="373.80" x2="410.00" y2="373.80" stroke="#484848" stroke-width="1.3" stroke-linecap="butt"/>
<text transform="translate(406.00,378.40) scale(0.98,1.12)" font-size="9.6" text-anchor="end" fill="#000" font-weight="bold">100</text>
<line x1="407.00" y1="423.40" x2="410.00" y2="423.40" stroke="#484848" stroke-width="1.3" stroke-linecap="butt"/>
<text transform="translate(406.00,428.00) scale(0.98,1.12)" font-size="9.6" text-anchor="end" fill="#000" font-weight="bold">50</text>
<line x1="407.00" y1="473.30" x2="410.00" y2="473.30" stroke="#484848" stroke-width="1.3" stroke-linecap="butt"/>
<text transform="translate(406.00,477.90) scale(0.98,1.12)" font-size="9.6" text-anchor="end" fill="#000" font-weight="bold">0</text>
<line x1="409.30" y1="473.10" x2="681.40" y2="473.10" stroke="#111" stroke-width="1.5" stroke-linecap="butt"/>
<line x1="432.30" y1="473.10" x2="432.30" y2="476.30" stroke="#000" stroke-width="1.3" stroke-linecap="butt"/>
<text transform="translate(432.30,487.80) scale(0.98,1.12)" font-size="9.6" text-anchor="middle" fill="#000" font-weight="bold">8</text>
<line x1="477.64" y1="473.10" x2="477.64" y2="476.30" stroke="#000" stroke-width="1.3" stroke-linecap="butt"/>
<text transform="translate(477.64,487.80) scale(0.98,1.12)" font-size="9.6" text-anchor="middle" fill="#000" font-weight="bold">15</text>
<line x1="522.98" y1="473.10" x2="522.98" y2="476.30" stroke="#000" stroke-width="1.3" stroke-linecap="butt"/>
<text transform="translate(522.98,487.80) scale(0.98,1.12)" font-size="9.6" text-anchor="middle" fill="#000" font-weight="bold">22</text>
<line x1="568.32" y1="473.10" x2="568.32" y2="476.30" stroke="#000" stroke-width="1.3" stroke-linecap="butt"/>
<text transform="translate(568.32,487.80) scale(0.98,1.12)" font-size="9.6" text-anchor="middle" fill="#000" font-weight="bold">28</text>
<line x1="613.66" y1="473.10" x2="613.66" y2="476.30" stroke="#000" stroke-width="1.3" stroke-linecap="butt"/>
<text transform="translate(613.66,487.80) scale(0.98,1.12)" font-size="9.6" text-anchor="middle" fill="#000" font-weight="bold">35</text>
<line x1="659.00" y1="473.10" x2="659.00" y2="476.30" stroke="#000" stroke-width="1.3" stroke-linecap="butt"/>
<text transform="translate(659.00,487.80) scale(0.98,1.12)" font-size="9.6" text-anchor="middle" fill="#000" font-weight="bold">42</text>
<text transform="translate(368.80,279.30) scale(1.0,1.07)" font-size="12.9" text-anchor="start" fill="#000" font-weight="bold">D)</text>
<text transform="translate(368.20,372.00) rotate(-90)" font-size="12.0" text-anchor="middle" fill="#000" font-weight="bold">Food Consumption</text>
<text transform="translate(382.00,372.00) rotate(-90)" font-size="12.0" text-anchor="middle" fill="#000" font-weight="bold">(g/week)</text>
<text transform="translate(545.40,516.00) scale(1.0,1.12)" font-size="10.6" text-anchor="middle" fill="#000" font-weight="bold">Days</text>
<line x1="435.80" y1="462.50" x2="565.20" y2="462.50" stroke="#000" stroke-width="1.7" stroke-linecap="butt"/>
<path d="M431.80,462.50 L439.00,459.20 L439.00,465.80 Z" fill="#000"/>
<path d="M569.20,462.50 L562.00,459.20 L562.00,465.80 Z" fill="#000"/>
<line x1="575.80" y1="462.50" x2="656.20" y2="462.50" stroke="#000" stroke-width="1.7" stroke-linecap="butt"/>
<path d="M571.80,462.50 L579.00,459.20 L579.00,465.80 Z" fill="#000"/>
<path d="M660.20,462.50 L653.00,459.20 L653.00,465.80 Z" fill="#000"/>
<text transform="translate(499.20,457.80) scale(1.0,1.17)" font-size="8.38" text-anchor="middle" fill="#000" font-weight="bold">Compound administration phase</text>
<text transform="translate(613.80,458.00) scale(1.0,1.06)" font-size="8.8" text-anchor="middle" fill="#000" font-weight="bold">Recovery phase</text>
<line x1="417.40" y1="276.50" x2="428.60" y2="276.50" stroke="#0000ee" stroke-width="2.0" stroke-linecap="butt"/>
<circle cx="423.00" cy="276.50" r="3.3000000000000003" fill="#0000ee"/>
<text transform="translate(435.20,280.10) scale(1.0,1.1)" font-size="9.7" text-anchor="start" fill="#000" font-weight="bold">G1-0 mg/kg/day</text>
<line x1="417.40" y1="289.30" x2="428.60" y2="289.30" stroke="#ff0000" stroke-width="2.0" stroke-linecap="butt"/>
<rect x="419.48" y="285.78" width="7.04" height="7.04" fill="#ff0000"/>
<text transform="translate(435.20,292.90) scale(1.0,1.1)" font-size="9.7" text-anchor="start" fill="#000" font-weight="bold">G2-100 mg/kg/day</text>
<line x1="417.40" y1="302.20" x2="428.60" y2="302.20" stroke="#990000" stroke-width="2.0" stroke-linecap="butt"/>
<path d="M423.00,298.04 L426.85,304.97 L419.15,304.97 Z" fill="#990000"/>
<text transform="translate(435.20,305.80) scale(1.0,1.1)" font-size="9.7" text-anchor="start" fill="#000" font-weight="bold">G3-300 mg/kg/day</text>
<line x1="417.40" y1="314.70" x2="428.60" y2="314.70" stroke="#0a7a0a" stroke-width="2.0" stroke-linecap="butt"/>
<path d="M423.00,318.86 L426.85,311.93 L419.15,311.93 Z" fill="#0a7a0a"/>
<text transform="translate(435.20,318.30) scale(1.0,1.1)" font-size="9.7" text-anchor="start" fill="#000" font-weight="bold">G4-1000 mg/kg/day</text>
<line x1="417.40" y1="327.20" x2="428.60" y2="327.20" stroke="#0000ee" stroke-width="2.0" stroke-linecap="butt"/>
<circle cx="423.00" cy="327.20" r="3.26" fill="#fff" stroke="#0000ee" stroke-width="1.4"/>
<text transform="translate(435.20,330.80) scale(1.0,1.1)" font-size="9.7" text-anchor="start" fill="#000" font-weight="bold">G1R-0 mg/kg/day</text>
<line x1="417.40" y1="339.70" x2="428.60" y2="339.70" stroke="#0a7a0a" stroke-width="2.0" stroke-linecap="butt"/>
<path d="M423.00,343.96 L427.18,336.86 L418.82,336.86 Z" fill="#fff" stroke="#0a7a0a" stroke-width="1.3" stroke-linejoin="miter"/>
<text transform="translate(435.20,343.30) scale(1.0,1.1)" font-size="9.7" text-anchor="start" fill="#000" font-weight="bold">G4R-1000 mg/kg/day</text>
<line x1="477.50" y1="373.00" x2="477.50" y2="369.90" stroke="#0a7a0a" stroke-width="1.4" stroke-linecap="butt"/>
<line x1="474.50" y1="369.90" x2="480.50" y2="369.90" stroke="#0a7a0a" stroke-width="1.4" stroke-linecap="butt"/>
<line x1="522.50" y1="371.00" x2="522.50" y2="367.00" stroke="#0a7a0a" stroke-width="1.4" stroke-linecap="butt"/>
<line x1="519.50" y1="367.00" x2="525.50" y2="367.00" stroke="#0a7a0a" stroke-width="1.4" stroke-linecap="butt"/>
<line x1="568.50" y1="369.00" x2="568.50" y2="365.30" stroke="#0a7a0a" stroke-width="1.4" stroke-linecap="butt"/>
<line x1="565.50" y1="365.30" x2="571.50" y2="365.30" stroke="#0a7a0a" stroke-width="1.4" stroke-linecap="butt"/>
<line x1="613.50" y1="367.50" x2="613.50" y2="363.90" stroke="#0a7a0a" stroke-width="1.4" stroke-linecap="butt"/>
<line x1="610.50" y1="363.90" x2="616.50" y2="363.90" stroke="#0a7a0a" stroke-width="1.4" stroke-linecap="butt"/>
<line x1="659.50" y1="366.40" x2="659.50" y2="362.90" stroke="#0a7a0a" stroke-width="1.4" stroke-linecap="butt"/>
<line x1="656.50" y1="362.90" x2="662.50" y2="362.90" stroke="#0a7a0a" stroke-width="1.4" stroke-linecap="butt"/>
<polyline points="432.30,372.60 477.64,373.30 522.98,372.00 568.32,370.50" fill="none" stroke="#ff0000" stroke-width="2.0" stroke-linejoin="round"/>
<polyline points="432.30,374.60 477.64,373.20 522.98,370.90 568.32,369.70" fill="none" stroke="#0a7a0a" stroke-width="1.8" stroke-linejoin="round"/>
<polyline points="432.30,374.60 477.64,373.20" fill="none" stroke="#f4f4f4" stroke-width="0.9" stroke-linejoin="round" stroke-dasharray="3,3.5"/>
<polyline points="432.30,375.80 477.64,374.00 522.98,371.90 568.32,370.30" fill="none" stroke="#990000" stroke-width="1.5" stroke-linejoin="round"/>
<polyline points="432.30,379.00 477.64,375.00 522.98,371.90 568.32,369.90" fill="none" stroke="#0000ee" stroke-width="2.2" stroke-linejoin="round"/>
<polyline points="522.98,369.60 568.32,368.60" fill="none" stroke="#0a7a0a" stroke-width="1.8" stroke-linejoin="round" stroke-dasharray="4,3.7"/>
<polyline points="568.32,369.30 613.66,367.50 659.00,366.40" fill="none" stroke="#0a7a0a" stroke-width="1.9" stroke-linejoin="round" stroke-dasharray="4,3.7"/>
<polyline points="568.32,369.90 613.66,367.50 659.00,366.40" fill="none" stroke="#0000ee" stroke-width="2.0" stroke-linejoin="round" stroke-dasharray="4,3.7"/>
<path d="M432.30,372.04 L435.50,377.80 L429.10,377.80 Z" fill="#990000"/>
<path d="M432.30,378.46 L435.50,372.70 L429.10,372.70 Z" fill="#0a7a0a"/>
<rect x="428.90" y="369.20" width="6.80" height="6.80" fill="#ff0000"/>
<circle cx="432.30" cy="379.00" r="3.4" fill="#0000ee"/>
<path d="M477.64,376.36 L480.94,370.42 L474.34,370.42 Z" fill="#0a7a0a"/>
<rect x="474.24" y="369.90" width="6.80" height="6.80" fill="#ff0000"/>
<circle cx="477.64" cy="375.00" r="3.4" fill="#0000ee"/>
<path d="M522.98,373.76 L526.28,367.82 L519.68,367.82 Z" fill="#0a7a0a"/>
<rect x="519.58" y="368.60" width="6.80" height="6.80" fill="#ff0000"/>
<circle cx="522.98" cy="371.90" r="3.4" fill="#0000ee"/>
<path d="M568.32,372.16 L571.62,366.22 L565.02,366.22 Z" fill="#0a7a0a"/>
<rect x="564.92" y="366.90" width="6.80" height="6.80" fill="#ff0000"/>
<circle cx="568.32" cy="369.90" r="3.4" fill="#0000ee"/>
<path d="M613.66,370.97 L617.06,365.19 L610.26,365.19 Z" fill="#fff" stroke="#0a7a0a" stroke-width="1.3" stroke-linejoin="miter"/>
<circle cx="613.66" cy="367.50" r="3.20" fill="#fff" stroke="#0000ee" stroke-width="1.4"/>
<path d="M659.00,369.87 L662.40,364.09 L655.60,364.09 Z" fill="#fff" stroke="#0a7a0a" stroke-width="1.3" stroke-linejoin="miter"/>
<circle cx="659.00" cy="366.40" r="3.20" fill="#fff" stroke="#0000ee" stroke-width="1.4"/>
<ellipse cx="574.40" cy="14.00" rx="3.45" ry="3.15" fill="none" stroke="#000" stroke-width="1.9"/>
<line x1="576.80" y1="11.40" x2="579.60" y2="9.00" stroke="#000" stroke-width="2.0" stroke-linecap="butt"/>
<path d="M581.80,7.00 L577.60,8.00 L580.80,11.20 Z" fill="#000"/>
<circle cx="565.60" cy="278.00" r="4.1" fill="none" stroke="#555" stroke-width="0.9"/>
<line x1="565.60" y1="282.30" x2="565.60" y2="290.60" stroke="#555" stroke-width="0.9" stroke-linecap="butt"/>
<line x1="561.30" y1="286.70" x2="569.90" y2="286.70" stroke="#555" stroke-width="0.9" stroke-linecap="butt"/>
</g></svg>
</body></html>
